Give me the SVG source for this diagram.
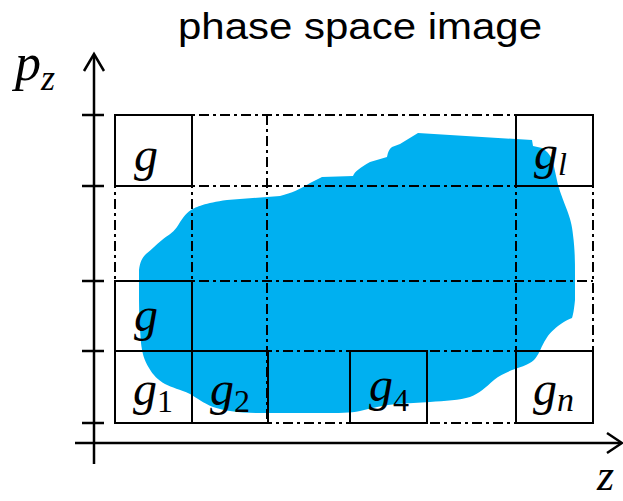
<svg xmlns="http://www.w3.org/2000/svg" width="623" height="501" viewBox="0 0 623 501">
<style>
.title{font-family:"Liberation Sans",Arial,sans-serif;font-size:36px;fill:#000}
.m{font-family:"Liberation Serif","DejaVu Serif",serif;font-style:italic;font-size:48px;fill:#000}
.sub{font-size:32px}
.up{font-style:normal}
.grid{stroke:#000;stroke-width:2;stroke-dasharray:10 4 3 4;fill:none}
.box{stroke:#000;stroke-width:2;fill:none}
.axis{stroke:#000;stroke-width:2.5;fill:none}
</style>
<rect width="623" height="501" fill="#fff"/>
<text class="title" x="178" y="39" textLength="364" lengthAdjust="spacingAndGlyphs">phase space image</text>

<g id="blob">
<path fill="#00B0F0" d="M139,300 L139,270 C140,262 142,258 146,254 C152,249 156,245 162,240 C168,235 172,234 177,227 C182,219 185,214 191,210 C196,207 205,203 227,200 L280,196 C292,193 300,189 310,183 L322,177 L353,176 C355,171 360,168 370,162 L387,157 C388,152 389,149 392,147 L400,144 L418,133 L532,140 L533,146 L542,148 C548,152 551,156 553,162 L558,185 C561,195 564,202 567,210 C570,218 572,225 573,235 C575,250 575,262 575,275 L575,300 C574,310 573,315 572,318 C565,321 562,323 558,326 C552,331 549,334 546,339 C541,347 540,352 537,356 C534,362 527,365 515,369 C507,372 500,375 494,380 C485,388 480,393 470,397 C460,400 445,401 430,402 L397,404 C385,405 372,408 360,411 C350,413 340,413 320,413 L260,413 C240,413 225,411 213,407 C203,403 197,398 190,394 C180,389 172,388 165,384 C158,380 153,375 149,368 C144,360 142,352 141,343 C140,330 139,315 139,300 Z"/>
</g>

<g id="grid">
<line class="grid" x1="115" y1="115" x2="593" y2="115"/>
<line class="grid" x1="115" y1="186" x2="593" y2="186"/>
<line class="grid" x1="115" y1="281" x2="593" y2="281"/>
<line class="grid" x1="115" y1="351" x2="593" y2="351"/>
<line class="grid" x1="115" y1="423" x2="593" y2="423"/>
<line class="grid" x1="115" y1="115" x2="115" y2="423"/>
<line class="grid" x1="192" y1="115" x2="192" y2="423"/>
<line class="grid" x1="267" y1="115" x2="267" y2="423"/>
<line class="grid" x1="516" y1="115" x2="516" y2="423"/>
<line class="grid" x1="593" y1="115" x2="593" y2="423"/>
</g>

<g id="connectors">
<line class="axis" x1="94" y1="464" x2="94" y2="55"/>
<polyline class="axis" points="84,71 94,54 104,71"/>
<line class="axis" x1="75" y1="443" x2="621" y2="443"/>
<polyline class="axis" points="607,433 622,443 607,453"/>
<line class="axis" x1="82" y1="115" x2="104" y2="115"/>
<line class="axis" x1="82" y1="186" x2="104" y2="186"/>
<line class="axis" x1="82" y1="281" x2="104" y2="281"/>
<line class="axis" x1="82" y1="351" x2="104" y2="351"/>
<line class="axis" x1="82" y1="423" x2="104" y2="423"/>
</g>

<g id="label-pz"><text class="m" x="15" y="80" style="font-size:52px">p<tspan class="sub" dy="10" style="font-size:36px">z</tspan></text></g>
<g id="label-z"><text class="m" x="597" y="490" style="font-size:44px">z</text></g>

<g id="node-g-top">
<rect class="box" x="115" y="115" width="77" height="71"/>
<text class="m" x="134" y="171">g</text>
</g>
<g id="node-gl">
<rect class="box" x="516" y="115" width="77" height="71"/>
<text class="m" x="534" y="169">g<tspan class="sub" dy="6">l</tspan></text>
</g>
<g id="node-g-mid">
<rect class="box" x="115" y="281" width="77" height="70"/>
<text class="m" x="134" y="331">g</text>
</g>
<g id="node-g1">
<rect class="box" x="115" y="351" width="77" height="72"/>
<text class="m" x="133" y="405">g<tspan class="sub up" dy="7">1</tspan></text>
</g>
<g id="node-g2">
<rect class="box" x="192" y="351" width="76" height="72"/>
<text class="m" x="210" y="405">g<tspan class="sub up" dy="7">2</tspan></text>
</g>
<g id="node-g4">
<rect class="box" x="350" y="351" width="77" height="72"/>
<text class="m" x="369" y="401">g<tspan class="sub up" dy="10">4</tspan></text>
</g>
<g id="node-gn">
<rect class="box" x="516" y="351" width="77" height="72"/>
<text class="m" x="533" y="405">g<tspan class="sub" dy="6" style="font-size:34px">n</tspan></text>
</g>
</svg>
